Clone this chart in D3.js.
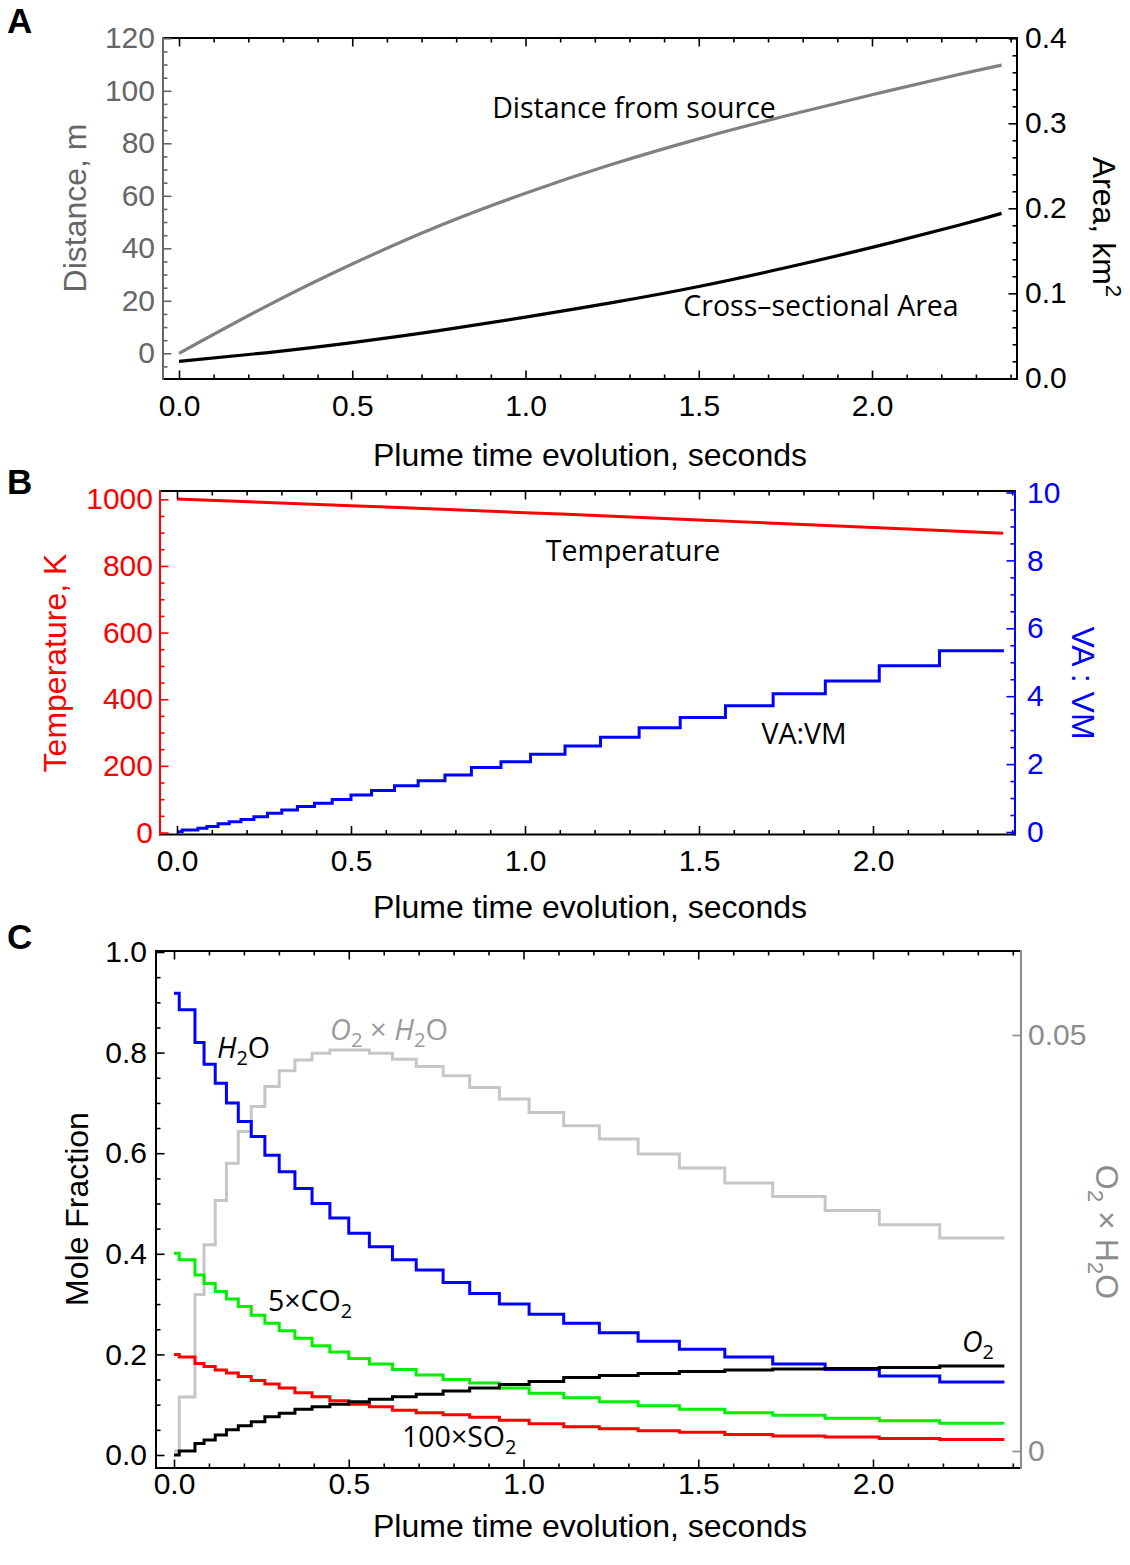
<!DOCTYPE html>
<html>
<head>
<meta charset="utf-8">
<script src="https://cdn.jsdelivr.net/npm/d3@7"></script>
<style>
body { margin: 0; background: #fff; }
</style>
</head>
<body>
<svg id="fig" width="1130" height="1565"></svg>
<script>
// ---- data ----
// panel A (smooth curves)
const curveTimes = [0, 0.25, 0.5, 0.75, 1.0, 1.25, 1.5, 1.75, 2.0, 2.25, 2.374];
const distance = [0, 17.8, 34, 48.5, 61, 72, 81.7, 90.4, 98.5, 106.2, 109.8];
const area = [0.020, 0.030, 0.042, 0.056, 0.072, 0.089, 0.108, 0.130, 0.154, 0.180, 0.194];

// panel B
const tempTimes = [0, 0.5, 1.0, 1.5, 2.0, 2.374];
const temperature = [1001, 981, 960, 938, 915, 898];

// step edges (seconds) shared by the step plots, 30 steps
const stepTimes = [0, 0.015, 0.060, 0.086, 0.118, 0.150, 0.184, 0.221, 0.260, 0.301, 0.346,
  0.395, 0.446, 0.500, 0.559, 0.625, 0.693, 0.770, 0.846, 0.931, 1.016,
  1.115, 1.217, 1.328, 1.446, 1.576, 1.713, 1.863, 2.018, 2.191, 2.376];

const vaVm = [0.01, 0.06, 0.11, 0.16, 0.24, 0.30, 0.37, 0.45, 0.55, 0.65, 0.75, 0.85, 0.96, 1.09, 1.22,
  1.36, 1.51, 1.68, 1.90, 2.07, 2.29, 2.53, 2.79, 3.07, 3.37, 3.72, 4.07, 4.45, 4.90, 5.34];

// panel C
const h2o = [0.918, 0.885, 0.820, 0.777, 0.739, 0.700, 0.663, 0.633, 0.596, 0.563, 0.530, 0.500, 0.471, 0.441, 0.414,
  0.388, 0.368, 0.343, 0.321, 0.300, 0.280, 0.262, 0.243, 0.226, 0.210, 0.195, 0.181, 0.170, 0.157, 0.145];
const o2 = [0.000, 0.008, 0.023, 0.030, 0.040, 0.050, 0.058, 0.066, 0.076, 0.083, 0.091, 0.096, 0.101, 0.106, 0.111,
  0.116, 0.121, 0.127, 0.133, 0.140, 0.146, 0.154, 0.158, 0.162, 0.166, 0.169, 0.171, 0.172, 0.174, 0.177];
const co2x5 = [0.401, 0.388, 0.358, 0.341, 0.325, 0.310, 0.295, 0.278, 0.262, 0.247, 0.232, 0.217, 0.205, 0.192, 0.181,
  0.170, 0.159, 0.150, 0.143, 0.133, 0.123, 0.114, 0.106, 0.098, 0.091, 0.084, 0.079, 0.073, 0.068, 0.063];
const so2x100 = [0.200, 0.195, 0.182, 0.176, 0.169, 0.163, 0.156, 0.148, 0.141, 0.133, 0.124, 0.116, 0.108, 0.101, 0.096,
  0.089, 0.084, 0.080, 0.075, 0.069, 0.062, 0.056, 0.052, 0.048, 0.045, 0.041, 0.038, 0.036, 0.033, 0.031];
const o2xh2o = [0, 0.0065, 0.0188, 0.0248, 0.0301, 0.0346, 0.0384, 0.0414, 0.0438, 0.0457, 0.0470, 0.0478, 0.0482, 0.0482, 0.0478,
  0.0471, 0.0462, 0.0451, 0.0437, 0.0423, 0.0407, 0.0391, 0.0375, 0.0357, 0.0340, 0.0322, 0.0306, 0.0289, 0.0272, 0.0256];

const xMajor = [0, 0.5, 1, 1.5, 2];
const xMinor = d3.range(0, 25).map(i => i / 10).filter(v => !xMajor.includes(v));

const TICK_FONT = "'Liberation Sans', Arial, Helvetica, sans-serif";
const NOTE_FONT = "'Open Sans', 'Liberation Sans', sans-serif";
const GRAY_AXIS = "#666666";
const TICK_SIZE = 30;
const TITLE_SIZE = 32;

const svg = d3.select("#fig");


function drawFrame(box, colors) {
    const sides = {
        top: [box.left, box.top, box.right, box.top],
        bottom: [box.left, box.bottom, box.right, box.bottom],
        left: [box.left, box.top, box.left, box.bottom],
        right: [box.right, box.top, box.right, box.bottom]
    };
    for (const key of Object.keys(sides)) {
        const [x1, y1, x2, y2] = sides[key];
        svg.append("line")
            .attr("x1", x1).attr("y1", y1).attr("x2", x2).attr("y2", y2)
            .attr("stroke", colors[key] || "#000")
            .attr("stroke-width", 2)
            .attr("stroke-linecap", "square");
    }
}

// ticks point into the plot, so tick sizes are negative
function drawAxis(orient, scale, pos, majors, minors, color, fmt, pad) {
    const maker = { bottom: d3.axisBottom, top: d3.axisTop, left: d3.axisLeft, right: d3.axisRight }[orient];
    const tr = (orient === "bottom" || orient === "top") ? `translate(0,${pos})` : `translate(${pos},0)`;

    const gMinor = svg.append("g").attr("transform", tr)
        .call(maker(scale).tickValues(minors).tickSize(-4.5).tickFormat(() => ""));
    const gMajor = svg.append("g").attr("transform", tr)
        .call(maker(scale).tickValues(majors).tickSize(-8.5).tickPadding(pad || 8).tickFormat(fmt || (() => "")));

    for (const g of [gMinor, gMajor]) {
        g.select(".domain").remove();
        g.selectAll("line").attr("stroke", color).attr("stroke-width", 1.6);
        g.attr("font-family", TICK_FONT).attr("font-size", TICK_SIZE);
        g.selectAll("text").attr("fill", color);
    }
}

// text made of pieces: {t, i (italic), sub, sup}
function richText(x, y, parts, size, opts) {
    opts = opts || {};
    const t = svg.append("text")
        .attr("x", x).attr("y", y)
        .attr("font-family", opts.font || NOTE_FONT)
        .attr("font-size", size)
        .attr("fill", opts.color || "#000")
        .attr("text-anchor", opts.anchor || "start");
    if (opts.rotate) t.attr("transform", `rotate(${opts.rotate},${x},${y})`);
    let shift = 0;
    for (const p of parts) {
        const target = p.sub ? size * 0.25 : (p.sup ? -size * 0.4 : 0);
        const span = t.append("tspan").text(p.t).attr("dy", target - shift);
        shift = target;
        if (p.sub || p.sup) span.attr("font-size", size * 0.7);
        if (p.i) span.attr("font-style", "italic");
    }
    return t;
}

function plainText(x, y, str, size, opts) {
    return richText(x, y, [{ t: str }], size, opts);
}

function stepPoints(values) {
    const pts = values.map((v, i) => [stepTimes[i], v]);
    pts.push([stepTimes[values.length], values[values.length - 1]]);
    return pts;
}

function drawSteps(x, y, values, color) {
    const line = d3.line().x(d => x(d[0])).y(d => y(d[1])).curve(d3.curveStepAfter);
    svg.append("path")
        .attr("d", line(stepPoints(values)))
        .attr("fill", "none")
        .attr("stroke", color)
        .attr("stroke-width", 3)
        .attr("stroke-linejoin", "miter");
}

function drawCurve(x, y, times, values, color, width) {
    const line = d3.line().x((d, i) => x(times[i])).y(d => y(d)).curve(d3.curveNatural);
    svg.append("path")
        .attr("d", line(values))
        .attr("fill", "none")
        .attr("stroke", color)
        .attr("stroke-width", width);
}

const fmt1 = d3.format(".1f");

// ================= Panel A =================
{
    const box = { left: 163, right: 1017, top: 38, bottom: 379 };
    const x = d3.scaleLinear().domain([0, 2]).range([179, 872]);
    const yL = d3.scaleLinear().domain([0, 120]).range([353.3, 38.3]);
    const yR = d3.scaleLinear().domain([0, 0.4]).range([378.3, 38.3]);

    drawCurve(x, yL, curveTimes, distance, "#808080", 3.2);
    drawCurve(x, yR, curveTimes, area, "#000", 3.2);

    drawFrame(box, { left: GRAY_AXIS });
    drawAxis("bottom", x, box.bottom, xMajor, xMinor, "#000", fmt1, 16);
    drawAxis("top", x, box.top, xMajor, xMinor, "#000");
    drawAxis("left", yL, box.left, d3.range(0, 121, 20), d3.range(-5, 120, 5).filter(v => v % 20 !== 0), GRAY_AXIS, d3.format("d"), 8);
    drawAxis("right", yR, box.right, d3.range(0, 5).map(i => i / 10), d3.range(0, 21).map(i => i / 50).filter(v => Math.round(v * 100) % 10 !== 0), "#000", fmt1, 8);

    plainText(7, 33, "A", 35, { font: TICK_FONT }).attr("font-weight", "bold");
    plainText(590, 466, "Plume time evolution, seconds", TITLE_SIZE, { font: TICK_FONT, anchor: "middle" });
    plainText(86, 208, "Distance, m", TITLE_SIZE, { font: TICK_FONT, anchor: "middle", rotate: -90, color: GRAY_AXIS });
    richText(1093, 227, [{ t: "Area, km" }, { t: "2", sup: true }], TITLE_SIZE, { font: TICK_FONT, anchor: "middle", rotate: 90 });

    plainText(634, 118, "Distance from source", 28.5, { anchor: "middle" });
    plainText(821, 316, "Cross\u2013sectional Area", 28.5, { anchor: "middle" });
}

// ================= Panel B =================
{
    const box = { left: 160, right: 1015, top: 491, bottom: 834.5 };
    const x = d3.scaleLinear().domain([0, 2]).range([177, 873]);
    const yL = d3.scaleLinear().domain([0, 1000]).range([832.5, 499.3]);
    const yR = d3.scaleLinear().domain([0, 10]).range([832, 492.5]);

    drawCurve(x, yL, tempTimes, temperature, "#ff0000", 3);
    drawSteps(x, yR, vaVm, "#0000ff");

    drawFrame(box, { left: "#ff0000", right: "#0000ff" });
    drawAxis("bottom", x, box.bottom, xMajor, xMinor, "#000", fmt1, 15);
    drawAxis("top", x, box.top, xMajor, xMinor, "#000");
    drawAxis("left", yL, box.left, d3.range(0, 1001, 200), d3.range(50, 1000, 50).filter(v => v % 200 !== 0), "#ff0000", d3.format("d"), 7);
    drawAxis("right", yR, box.right, d3.range(0, 11, 2), d3.range(0.5, 10, 0.5).filter(v => v % 2 !== 0), "#0000ff", d3.format("d"), 12);

    plainText(7, 494, "B", 35, { font: TICK_FONT }).attr("font-weight", "bold");
    plainText(590, 918, "Plume time evolution, seconds", TITLE_SIZE, { font: TICK_FONT, anchor: "middle" });
    plainText(66, 663, "Temperature, K", TITLE_SIZE, { font: TICK_FONT, anchor: "middle", rotate: -90, color: "#ff0000" });
    plainText(1072, 683, "VA : VM", TITLE_SIZE, { font: TICK_FONT, anchor: "middle", rotate: 90, color: "#0000ff" });

    plainText(633, 561, "Temperature", 28.5, { anchor: "middle" });
    plainText(804, 744, "VA:VM", 28.5, { anchor: "middle" });
}

// ================= Panel C =================
{
    const box = { left: 156, right: 1021, top: 951, bottom: 1468 };
    const x = d3.scaleLinear().domain([0, 2]).range([174, 873]);
    const yL = d3.scaleLinear().domain([0, 1]).range([1455, 952]);
    const yR = d3.scaleLinear().domain([0, 0.05]).range([1451, 1035]);

    drawSteps(x, yR, o2xh2o, "#c6c6c6");
    drawSteps(x, yL, h2o, "#0000ff");
    drawSteps(x, yL, co2x5, "#00f000");
    drawSteps(x, yL, so2x100, "#ff0000");
    drawSteps(x, yL, o2, "#000");

    drawFrame(box, { right: "#8c8c8c" });
    drawAxis("bottom", x, box.bottom, xMajor, xMinor, "#000", fmt1, 5);
    drawAxis("top", x, box.top, xMajor, xMinor, "#000");
    drawAxis("left", yL, box.left, d3.range(0, 6).map(i => i / 5), d3.range(1, 20).map(i => i / 20).filter(v => Math.round(v * 100) % 20 !== 0), "#000", fmt1, 9);
    drawAxis("right", yR, box.right, [0, 0.05], [], "#8c8c8c", v => (v === 0 ? "0" : "0.05"), 7);

    plainText(7, 949, "C", 35, { font: TICK_FONT }).attr("font-weight", "bold");
    plainText(590, 1537, "Plume time evolution, seconds", TITLE_SIZE, { font: TICK_FONT, anchor: "middle" });
    plainText(88, 1209, "Mole Fraction", TITLE_SIZE, { font: TICK_FONT, anchor: "middle", rotate: -90 });
    richText(1096, 1232, [{ t: "O" }, { t: "2", sub: true }, { t: " \u00d7 H" }, { t: "2", sub: true }, { t: "O" }], TITLE_SIZE,
        { font: TICK_FONT, anchor: "middle", rotate: 90, color: "#8c8c8c" });

    richText(217, 1058, [{ t: "H", i: true }, { t: "2", sub: true }, { t: "O" }], 28.5);
    richText(330, 1040, [{ t: "O", i: true }, { t: "2", sub: true }, { t: " \u00d7 " }, { t: "H", i: true }, { t: "2", sub: true }, { t: "O" }], 29, { color: "#9a9a9a" });
    richText(268, 1311, [{ t: "5\u00d7CO" }, { t: "2", sub: true }], 28.5);
    richText(402, 1447, [{ t: "100\u00d7SO" }, { t: "2", sub: true }], 28.5);
    richText(962, 1352, [{ t: "O", i: true }, { t: "2", sub: true }], 28.5);
}
</script>
</body>
</html>
